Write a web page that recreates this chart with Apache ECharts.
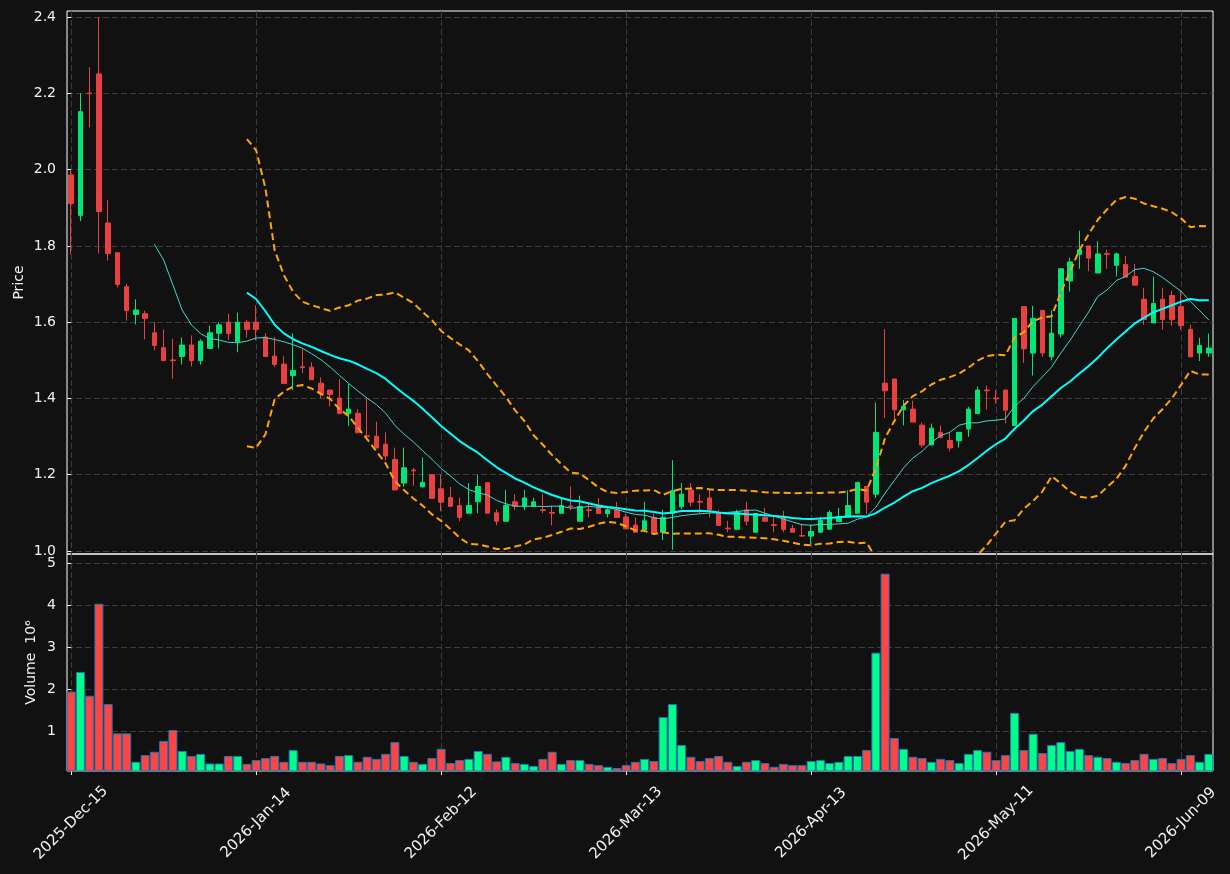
<!DOCTYPE html>
<html>
<head>
<meta charset="utf-8">
<script src="https://cdn.jsdelivr.net/npm/echarts@6/dist/echarts.min.js"></script>
<style>
  html, body { margin: 0; padding: 0; background: #111111; }
  #chart { width: 1230px; height: 874px; }
</style>
</head>
<body>
<div id="chart"></div>
<script>
// daily bars (price in $, volume in millions)
var open = [
  1.986, 1.880, 2.201, 2.251, 1.860, 1.782, 1.693, 1.620, 1.622, 1.572,
  1.533, 1.501, 1.510, 1.540, 1.499, 1.531, 1.571, 1.600, 1.549, 1.600,
  1.600, 1.561, 1.511, 1.490, 1.460, 1.483, 1.482, 1.440, 1.422, 1.401,
  1.360, 1.361, 1.302, 1.301, 1.280, 1.240, 1.178, 1.212, 1.168, 1.200,
  1.163, 1.140, 1.119, 1.099, 1.129, 1.179, 1.100, 1.078, 1.129, 1.117,
  1.117, 1.108, 1.101, 1.099, 1.118, 1.078, 1.108, 1.119, 1.098, 1.108,
  1.089, 1.068, 1.056, 1.088, 1.049, 1.099, 1.116, 1.160, 1.130, 1.139,
  1.100, 1.060, 1.057, 1.108, 1.049, 1.088, 1.069, 1.088, 1.059, 1.040,
  1.039, 1.049, 1.057, 1.077, 1.089, 1.099, 1.169, 1.149, 1.440, 1.451,
  1.370, 1.372, 1.330, 1.278, 1.311, 1.290, 1.289, 1.320, 1.360, 1.422,
  1.401, 1.422, 1.329, 1.641, 1.519, 1.631, 1.509, 1.569, 1.708, 1.778,
  1.800, 1.729, 1.780, 1.749, 1.751, 1.720, 1.660, 1.598, 1.660, 1.670,
  1.641, 1.581, 1.519, 1.519
];
var high = [
  2.000, 2.200, 2.269, 2.400, 1.920, 1.782, 1.700, 1.660, 1.630, 1.600,
  1.581, 1.556, 1.560, 1.565, 1.555, 1.591, 1.600, 1.622, 1.625, 1.606,
  1.644, 1.571, 1.561, 1.511, 1.571, 1.532, 1.495, 1.455, 1.422, 1.450,
  1.438, 1.372, 1.400, 1.339, 1.311, 1.271, 1.271, 1.218, 1.245, 1.200,
  1.200, 1.168, 1.140, 1.178, 1.200, 1.179, 1.109, 1.160, 1.149, 1.160,
  1.139, 1.149, 1.119, 1.139, 1.169, 1.145, 1.128, 1.139, 1.117, 1.129,
  1.098, 1.088, 1.129, 1.098, 1.108, 1.238, 1.178, 1.178, 1.149, 1.160,
  1.108, 1.079, 1.108, 1.129, 1.098, 1.113, 1.088, 1.105, 1.068, 1.070,
  1.068, 1.089, 1.106, 1.113, 1.159, 1.180, 1.169, 1.389, 1.582, 1.451,
  1.396, 1.394, 1.337, 1.334, 1.329, 1.310, 1.311, 1.378, 1.431, 1.434,
  1.422, 1.422, 1.610, 1.641, 1.643, 1.631, 1.631, 1.740, 1.769, 1.840,
  1.800, 1.812, 1.790, 1.782, 1.773, 1.753, 1.690, 1.719, 1.690, 1.682,
  1.681, 1.593, 1.559, 1.570
];
var low = [
  1.778, 1.865, 2.111, 1.780, 1.761, 1.691, 1.604, 1.594, 1.555, 1.526,
  1.499, 1.451, 1.489, 1.484, 1.489, 1.531, 1.531, 1.553, 1.521, 1.560,
  1.552, 1.510, 1.482, 1.439, 1.422, 1.466, 1.449, 1.400, 1.379, 1.360,
  1.328, 1.310, 1.299, 1.270, 1.238, 1.160, 1.168, 1.171, 1.168, 1.138,
  1.104, 1.117, 1.078, 1.099, 1.099, 1.099, 1.067, 1.078, 1.107, 1.107,
  1.117, 1.099, 1.067, 1.099, 1.107, 1.078, 1.088, 1.098, 1.088, 1.088,
  1.058, 1.049, 1.049, 1.045, 1.029, 1.003, 1.110, 1.117, 1.099, 1.088,
  1.067, 1.049, 1.057, 1.067, 1.049, 1.078, 1.049, 1.049, 1.049, 1.039,
  1.018, 1.049, 1.057, 1.077, 1.089, 1.099, 1.097, 1.139, 1.349, 1.343,
  1.329, 1.338, 1.271, 1.278, 1.295, 1.261, 1.271, 1.299, 1.360, 1.371,
  1.387, 1.335, 1.329, 1.493, 1.460, 1.509, 1.500, 1.560, 1.680, 1.740,
  1.734, 1.729, 1.740, 1.720, 1.718, 1.697, 1.593, 1.598, 1.580, 1.591,
  1.580, 1.509, 1.498, 1.509
];
var close = [
  1.911, 2.152, 2.199, 1.890, 1.780, 1.699, 1.630, 1.632, 1.610, 1.539,
  1.499, 1.499, 1.540, 1.499, 1.550, 1.572, 1.593, 1.570, 1.600, 1.581,
  1.581, 1.510, 1.489, 1.439, 1.473, 1.481, 1.449, 1.412, 1.410, 1.360,
  1.372, 1.310, 1.300, 1.270, 1.249, 1.160, 1.218, 1.210, 1.180, 1.138,
  1.128, 1.117, 1.088, 1.119, 1.169, 1.099, 1.078, 1.119, 1.117, 1.139,
  1.129, 1.106, 1.099, 1.119, 1.116, 1.117, 1.106, 1.098, 1.108, 1.088,
  1.058, 1.049, 1.079, 1.049, 1.088, 1.158, 1.149, 1.128, 1.128, 1.108,
  1.067, 1.058, 1.100, 1.078, 1.098, 1.078, 1.067, 1.056, 1.049, 1.039,
  1.051, 1.080, 1.101, 1.090, 1.119, 1.180, 1.128, 1.311, 1.420, 1.370,
  1.379, 1.338, 1.278, 1.322, 1.298, 1.270, 1.311, 1.372, 1.422, 1.420,
  1.399, 1.369, 1.610, 1.530, 1.610, 1.519, 1.571, 1.740, 1.758, 1.790,
  1.768, 1.779, 1.778, 1.779, 1.718, 1.697, 1.607, 1.649, 1.607, 1.607,
  1.591, 1.509, 1.539, 1.532
];
var volume = [
  1.94, 2.41, 1.84, 4.04, 1.64, 0.94, 0.94, 0.26, 0.42, 0.50,
  0.76, 1.02, 0.52, 0.40, 0.45, 0.22, 0.22, 0.40, 0.40, 0.21,
  0.30, 0.35, 0.40, 0.26, 0.54, 0.26, 0.26, 0.22, 0.18, 0.40,
  0.42, 0.26, 0.38, 0.33, 0.45, 0.73, 0.40, 0.26, 0.21, 0.35,
  0.57, 0.23, 0.30, 0.33, 0.52, 0.45, 0.27, 0.38, 0.23, 0.21,
  0.16, 0.33, 0.50, 0.21, 0.30, 0.30, 0.21, 0.18, 0.14, 0.11,
  0.18, 0.26, 0.33, 0.28, 1.33, 1.64, 0.66, 0.38, 0.28, 0.35,
  0.40, 0.26, 0.16, 0.26, 0.30, 0.23, 0.14, 0.21, 0.18, 0.18,
  0.28, 0.30, 0.23, 0.26, 0.40, 0.40, 0.54, 2.87, 4.76, 0.83,
  0.57, 0.38, 0.35, 0.26, 0.33, 0.30, 0.23, 0.45, 0.54, 0.50,
  0.30, 0.42, 1.43, 0.54, 0.93, 0.47, 0.66, 0.73, 0.52, 0.57,
  0.42, 0.38, 0.35, 0.26, 0.23, 0.30, 0.45, 0.33, 0.35, 0.23,
  0.33, 0.42, 0.26, 0.45
];
var priceTicks = [1.0, 1.2, 1.4, 1.6, 1.8, 2.0, 2.2, 2.4];
var volumeTicks = [1, 2, 3, 4, 5];
var dateTicks = [0, 20, 40, 60, 80, 100, 120];

// trading calendar: weekdays from the first session, minus market holidays
var firstDay = '2025-12-15';
var holidays = ['2025-12-25', '2026-01-01', '2026-01-19', '2026-02-16', '2026-04-03', '2026-05-25'];
var MONTHS = ['Jan', 'Feb', 'Mar', 'Apr', 'May', 'Jun', 'Jul', 'Aug', 'Sep', 'Oct', 'Nov', 'Dec'];

var dates = [];
var d = new Date(firstDay + 'T00:00:00Z');
while (dates.length < close.length) {
    var iso = d.toISOString().slice(0, 10);
    var wd = d.getUTCDay();
    if (wd !== 0 && wd !== 6 && holidays.indexOf(iso) < 0) {
        dates.push(d.getUTCFullYear() + '-' + MONTHS[d.getUTCMonth()] + '-' + iso.slice(8, 10));
    }
    d.setUTCDate(d.getUTCDate() + 1);
}

function rolling(n, fn) {
    var out = [];
    for (var i = n - 1; i < close.length; i++) {
        out.push([i, fn(close.slice(i - n + 1, i + 1))]);
    }
    return out;
}
function mean(a) { return a.reduce(function (s, v) { return s + v; }, 0) / a.length; }
function std(a) {
    var m = mean(a);
    return Math.sqrt(a.reduce(function (s, v) { return s + (v - m) * (v - m); }, 0) / a.length);
}

var ma10 = rolling(10, mean);
var ma20 = rolling(20, mean);
var bbUpper = rolling(20, function (a) { return mean(a) + 2 * std(a); });
var bbLower = rolling(20, function (a) { return mean(a) - 2 * std(a); });

var UP = '#00e676', DOWN = '#e8413f';
var VUP = '#00ff88', VDOWN = '#ff4444';
var FONT = 'DejaVu Sans';
var TXT = '#f2f2f2';
var GRIDLINE = { show: true, lineStyle: { color: '#3c3c3c', type: [6, 3], width: 1 } };

var candles = close.map(function (c, i) { return [i, open[i], c, low[i], high[i]]; });
var vols = volume.map(function (v, i) {
    return { value: [i, v], itemStyle: { color: close[i] >= open[i] ? VUP : VDOWN } };
});

var dom = document.getElementById('chart');
var myChart = echarts.init(dom, null, { renderer: 'canvas' });

var option = {
    backgroundColor: '#111111',
    animation: false,
    textStyle: { fontFamily: FONT },
    grid: [
        { left: 67, right: 17, top: 11, height: 543, show: true, borderColor: '#ffffff', borderWidth: 1 },
        { left: 67, right: 17, top: 554, height: 217, show: true, borderColor: '#ffffff', borderWidth: 1 }
    ],
    xAxis: [
        {
            type: 'value', gridIndex: 0, min: -0.45, max: 123.45,
            axisLine: { show: false },
            axisTick: { show: false, customValues: dateTicks },
            axisLabel: { show: false, customValues: dateTicks },
            splitLine: GRIDLINE
        },
        {
            type: 'value', gridIndex: 1, min: -0.45, max: 123.45,
            axisLine: { show: false },
            axisTick: { show: true, inside: false, length: 4, customValues: dateTicks,
                lineStyle: { color: '#ffffff', width: 1 } },
            axisLabel: {
                customValues: dateTicks, rotate: 45, align: 'center', verticalAlign: 'middle',
                margin: 52, color: TXT, fontSize: 15, fontFamily: FONT,
                formatter: function (v) { return dates[Math.round(v)]; }
            },
            splitLine: GRIDLINE
        }
    ],
    yAxis: [
        {
            type: 'value', gridIndex: 0, min: 0.992, max: 2.416,
            name: 'Price', nameLocation: 'middle', nameGap: 41, nameMoveOverlap: false,
            nameTextStyle: { color: TXT, fontSize: 14, fontFamily: FONT },
            axisLine: { show: false },
            axisTick: { show: true, length: 4, customValues: priceTicks,
                lineStyle: { color: '#ffffff', width: 1 } },
            axisLabel: { customValues: priceTicks, color: TXT, fontSize: 14, fontFamily: FONT, margin: 11,
                formatter: function (v) { return v.toFixed(1); } },
            splitLine: GRIDLINE
        },
        {
            type: 'value', gridIndex: 1, min: 0.04, max: 5.23,
            name: 'Volume  10\u2076', nameLocation: 'middle', nameGap: 29, nameMoveOverlap: false,
            nameTextStyle: { color: TXT, fontSize: 14, fontFamily: FONT },
            axisLine: { show: false },
            axisTick: { show: true, length: 4, customValues: volumeTicks,
                lineStyle: { color: '#ffffff', width: 1 } },
            axisLabel: { customValues: volumeTicks, color: TXT, fontSize: 14, fontFamily: FONT, margin: 11 },
            splitLine: GRIDLINE
        }
    ],
    series: [
        {
            type: 'candlestick', xAxisIndex: 0, yAxisIndex: 0,
            data: candles, encode: { x: 0, y: [1, 2, 3, 4] },
            barWidth: 5,
            itemStyle: { color: UP, color0: DOWN, borderColor: UP, borderColor0: DOWN, borderWidth: 1 }
        },
        {
            type: 'line', xAxisIndex: 0, yAxisIndex: 0, data: ma10,
            showSymbol: false, lineStyle: { color: '#40d8c8', width: 1 }
        },
        {
            type: 'line', xAxisIndex: 0, yAxisIndex: 0, data: ma20,
            showSymbol: false, lineStyle: { color: '#00ffff', width: 2 }
        },
        {
            type: 'line', xAxisIndex: 0, yAxisIndex: 0, data: bbUpper,
            showSymbol: false, lineStyle: { color: '#ffa500', width: 2, type: [7, 4] }
        },
        {
            type: 'line', xAxisIndex: 0, yAxisIndex: 0, data: bbLower,
            showSymbol: false, lineStyle: { color: '#ffa500', width: 2, type: [7, 4] }
        },
        {
            type: 'bar', xAxisIndex: 1, yAxisIndex: 1, data: vols,
            barWidth: 9, itemStyle: { borderColor: '#1f77b4', borderWidth: 1 }
        }
    ]
};

if (option && typeof option === 'object') {
    myChart.setOption(option, true);
}
</script>
</body>
</html>
